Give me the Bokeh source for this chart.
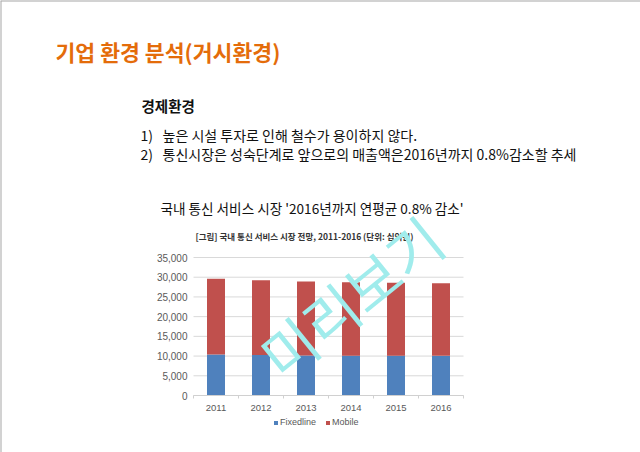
from bokeh.plotting import figure
from bokeh.models import (Range1d, Legend, LegendItem, ColumnDataSource,
                          NumeralTickFormatter, FixedTicker)
from bokeh.core.properties import value
from bokeh.embed import file_html
from bokeh.resources import INLINE

# ---------------- data ----------------
years = ["2011", "2012", "2013", "2014", "2015", "2016"]
fixedline = [10400, 10300, 10150, 10100, 10100, 10050]
mobile = [19200, 18950, 18750, 18600, 18500, 18450]
y_ticks = [0, 5000, 10000, 15000, 20000, 25000, 30000, 35000]
series_names = ["Fixedline", "Mobile"]
series_colors = ["#4f81bd", "#c0504d"]

slide_title = "기업 환경 분석(거시환경)"
heading = "경제환경"
bullet_nums = ["1)", "2)"]
bullet_texts = ["높은 시설 투자로 인해 철수가 용이하지 않다.",
                "통신시장은 성숙단계로 앞으로의 매출액은2016년까지 0.8%감소할 추세"]
chart_title = "국내 통신 서비스 시장 '2016년까지 연평균 0.8% 감소'"
chart_subtitle = "[그림] 국내 통신 서비스 시장 전망, 2011-2016 (단위: 십억원)"
watermark = "미리보기"

KR = "Noto Sans CJK KR"

# ---------------- geometry (canvas pixels) ----------------
W, H = 640, 452
CL, CR, CT, CB = 193, 463, 257, 395          # chart plotting area inside canvas
YMAX = 35000
NX = len(years)


def dx(px):
    return (px - CL) * NX / (CR - CL)


def dy(py):
    return (CB - py) * YMAX / (CB - CT)


p = figure(width=W, height=H, x_range=Range1d(dx(0), dx(W)), y_range=Range1d(dy(H), dy(0)),
           output_backend="svg", toolbar_location=None, min_border=0)
p.outline_line_color = None
p.background_fill_color = "white"
p.grid.visible = False

# slide frame: thin grey edge along the top and left of the page
xr, yr = p.x_range, p.y_range
p.segment(x0=[xr.start, xr.start], x1=[xr.end, xr.start], y0=[yr.end, yr.end],
          y1=[yr.end, yr.start], line_color="#a6a6a6", line_width=2)

# horizontal gridlines limited to the chart area
p.segment(x0=[0] * len(y_ticks), x1=[NX] * len(y_ticks), y0=y_ticks, y1=y_ticks,
          line_color="#d9d9d9", line_width=1)

xpos = [i + 0.5 for i in range(NX)]
src = ColumnDataSource(dict(x=xpos, Fixedline=fixedline, Mobile=mobile))
rs = p.vbar_stack(series_names, x="x", width=0.4, color=series_colors,
                  line_color=None, source=src)

# axes pinned to the chart origin
p.yaxis.fixed_location = 0
p.yaxis.bounds = (0, YMAX)
p.yaxis.ticker = FixedTicker(ticks=y_ticks)
p.yaxis.formatter = NumeralTickFormatter(format="0,0")
p.yaxis.axis_line_color = None
p.yaxis.major_tick_line_color = None
p.yaxis.major_tick_out = 0
p.yaxis.minor_tick_line_color = None
p.yaxis.major_label_standoff = 6
p.yaxis.major_label_text_font = "Liberation Sans"
p.yaxis.major_label_text_font_size = "10px"
p.yaxis.major_label_text_color = "#595959"

p.xaxis.fixed_location = 0
p.xaxis.bounds = (0, NX)
p.xaxis.ticker = FixedTicker(ticks=xpos, minor_ticks=list(range(NX + 1)))
p.xaxis.major_label_overrides = {x: y for x, y in zip(xpos, years)}
p.xaxis.axis_line_color = "#d0d0d0"
p.xaxis.major_tick_line_color = None
p.xaxis.major_tick_out = 0
p.xaxis.minor_tick_line_color = "#d0d0d0"
p.xaxis.minor_tick_in = 0
p.xaxis.minor_tick_out = 3
p.xaxis.major_label_standoff = 6
p.xaxis.major_label_text_font = "Liberation Sans"
p.xaxis.major_label_text_font_size = "9.5px"
p.xaxis.major_label_text_color = "#595959"

legend = Legend(items=[LegendItem(label=n, renderers=[r]) for n, r in zip(series_names, rs)],
                orientation="horizontal", location=(273, 25), glyph_width=5, glyph_height=5,
                label_standoff=2, spacing=9, padding=0, margin=0, label_height=10,
                label_text_font="Liberation Sans", label_text_font_size="9px",
                label_text_color="#595959", background_fill_alpha=0, border_line_alpha=0)
p.add_layout(legend, "center")


def add_text(px, py, txt, size, color="#111111", bold=False, align="left", angle=0):
    p.text(x=[dx(px)], y=[dy(py)], text=[txt], text_font=value(KR),
           text_font_style="bold" if bold else "normal",
           text_font_size=size, text_color=color, text_align=align,
           text_baseline="middle", angle=angle, angle_units="deg")


add_text(55, 51, slide_title, "21.6px", color="#e46c0a", bold=True)
add_text(141, 105, heading, "14.5px", bold=True)
for py, num, txt in zip([134, 153], bullet_nums, bullet_texts):
    add_text(140, py, num, "14px")
    add_text(162, py, txt, "14px")
add_text(160, 207, chart_title, "13.6px")
add_text(195, 235, chart_subtitle, "8.5px", color="#333333", bold=True)
add_text(350, 296, watermark, "58px", color="#a0ecec", align="center", angle=39)

open("out.html", "w").write(file_html(p, INLINE))
